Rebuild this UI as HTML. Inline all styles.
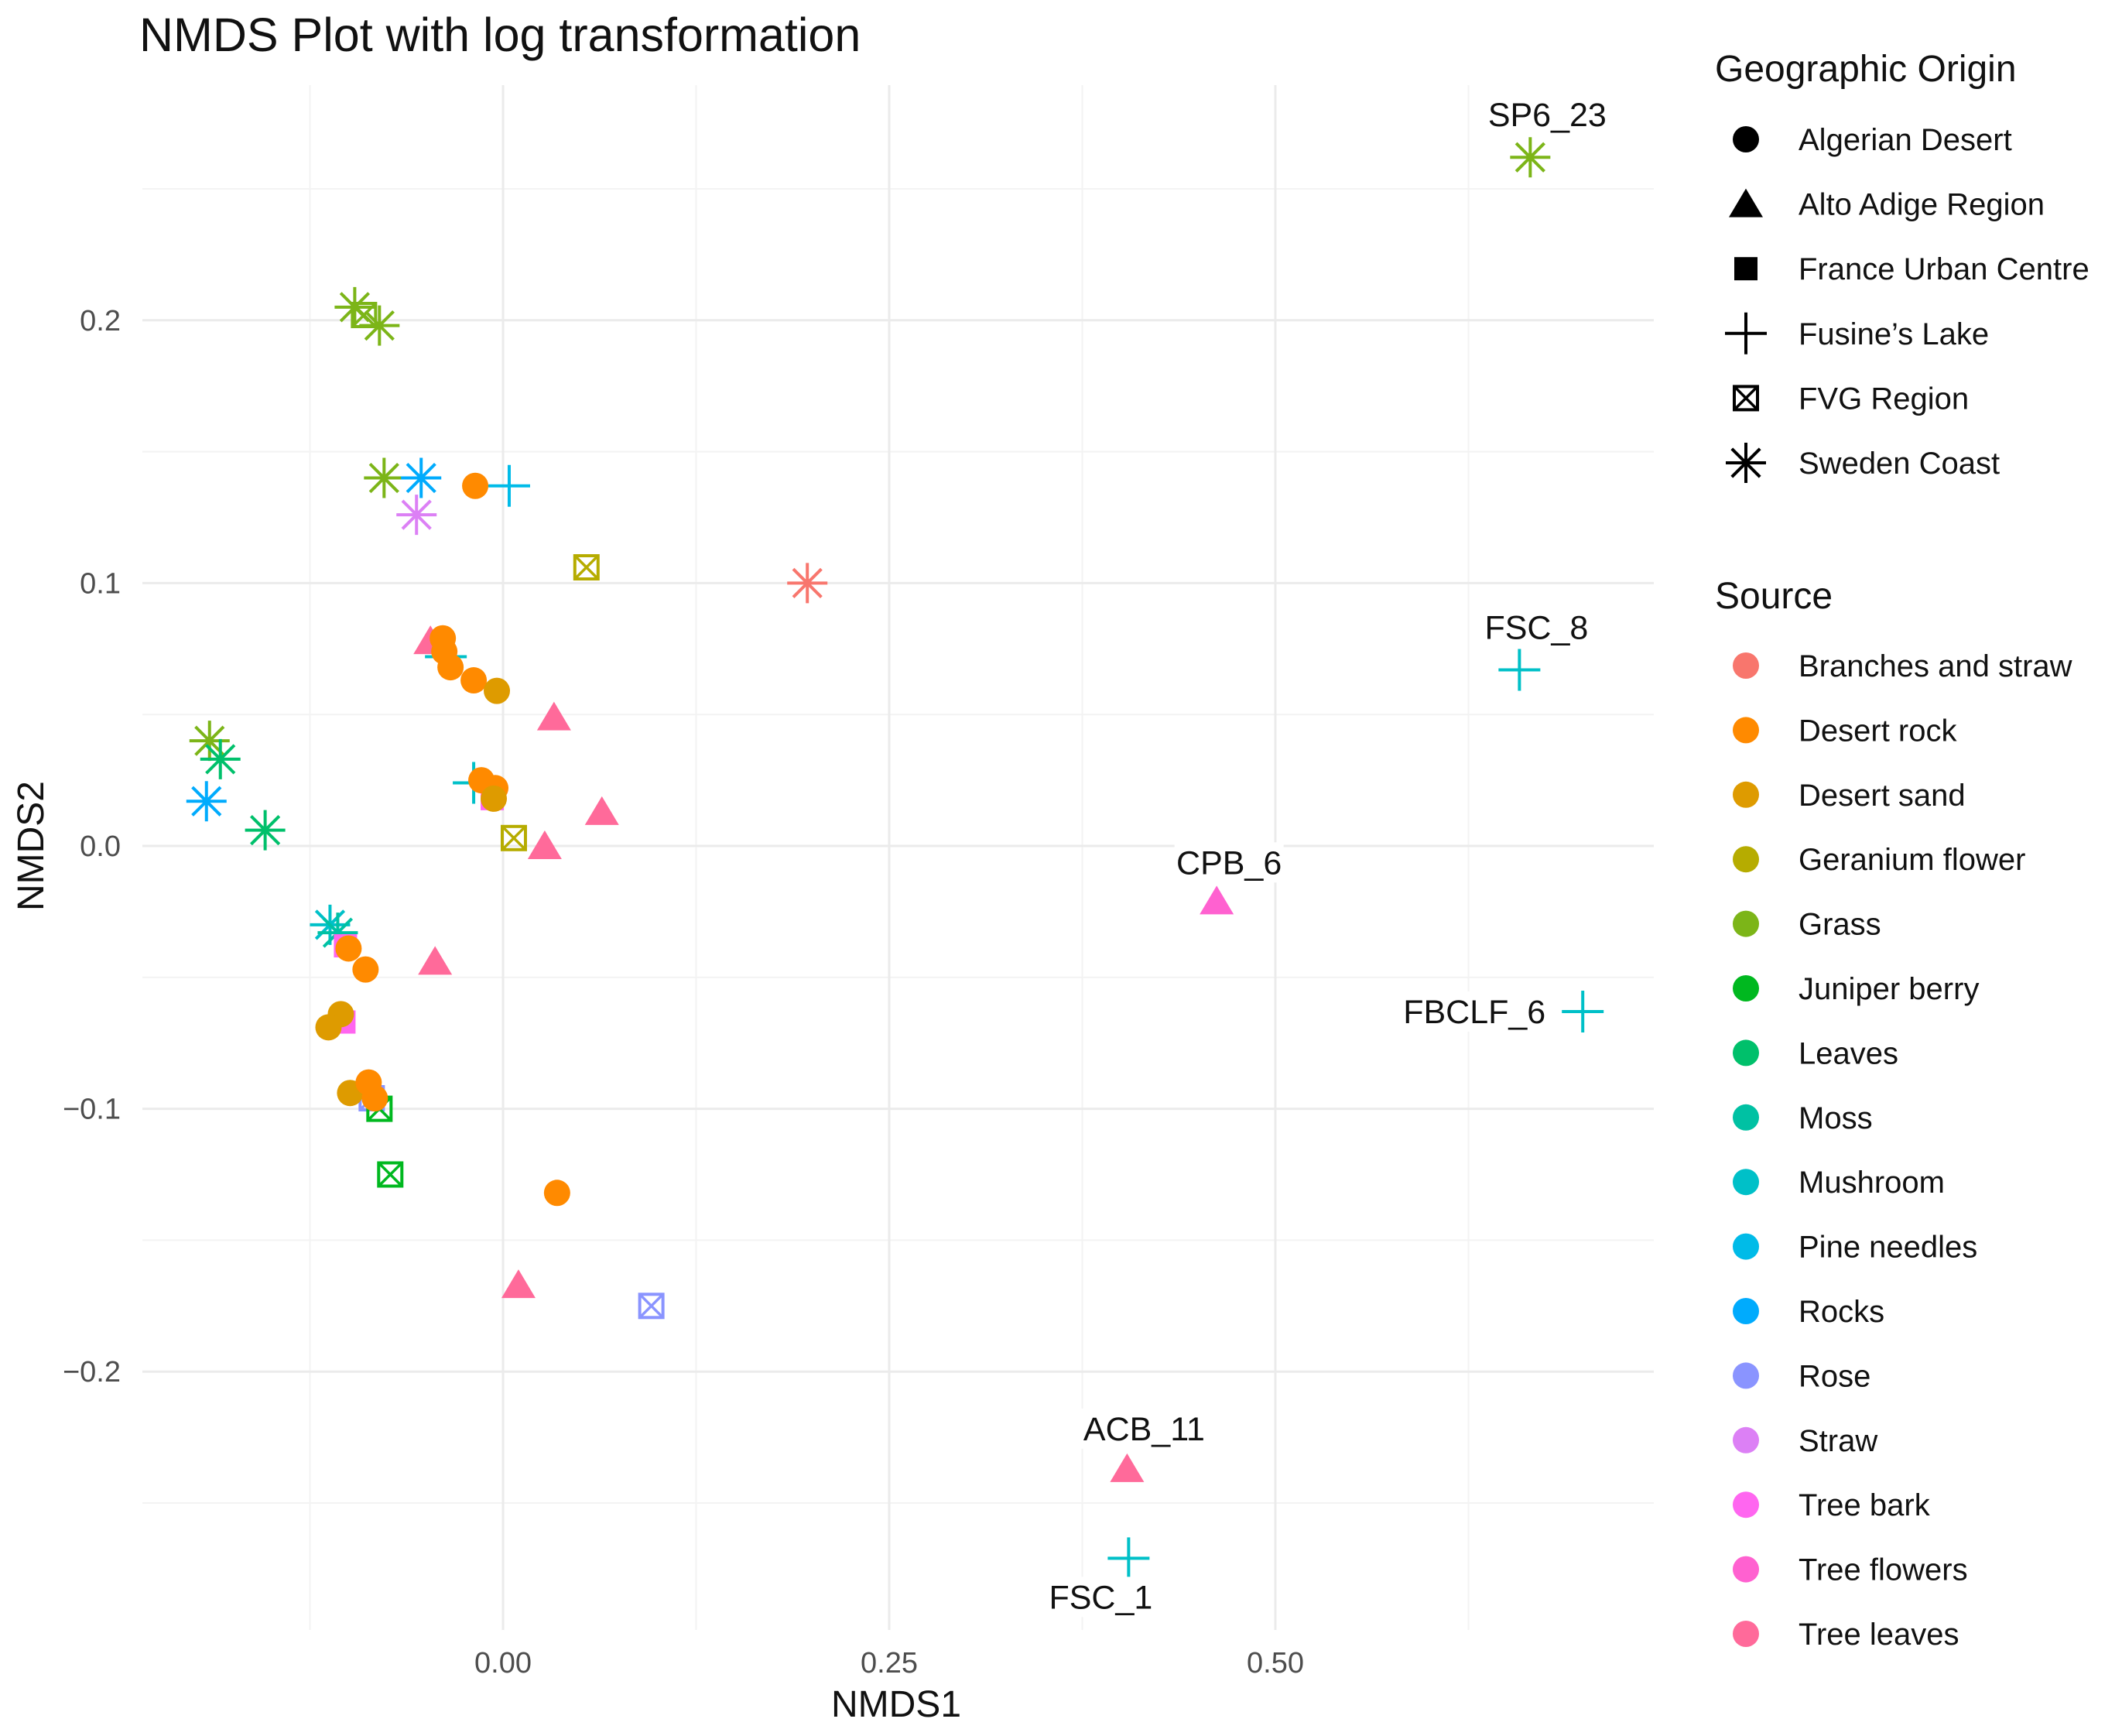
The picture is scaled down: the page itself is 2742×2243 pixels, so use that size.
<!DOCTYPE html>
<html><head><meta charset="utf-8"><style>
html,body{margin:0;padding:0;background:#fff;}
svg{display:block;font-family:"Liberation Sans",sans-serif;}
</style></head><body>
<svg id="chart" width="2742" height="2243" viewBox="0 0 2742 2243" xmlns="http://www.w3.org/2000/svg">
<text x="180" y="66" font-size="61" fill="#111">NMDS Plot with log transformation</text>
<g id="grid"></g>
<g id="marks"></g>
<g id="labels"></g>
<g id="axes"></g>
<text x="1158" y="2218" font-size="48" text-anchor="middle" fill="#111">NMDS1</text>
<text x="0" y="0" font-size="48" text-anchor="middle" fill="#111" transform="translate(56,1093) rotate(-90)">NMDS2</text>
<g id="legend"></g>
</svg>
<script>
const xTicks=[0,0.25,0.5];
const xTickLabels=["0.00","0.25","0.50"];
const yTicks=[-0.2,-0.1,0,0.1,0.2];
const yTickLabels=["\u22120.2","\u22120.1","0.0","0.1","0.2"];
const origins=["Algerian Desert","Alto Adige Region","France Urban Centre","Fusine\u2019s Lake","FVG Region","Sweden Coast"];
const sources=["Branches and straw","Desert rock","Desert sand","Geranium flower","Grass","Juniper berry","Leaves","Moss","Mushroom","Pine needles","Rocks","Rose","Straw","Tree bark","Tree flowers","Tree leaves"];
const colors=["#F8766D","#FF8A00","#DE9B00","#B6AC00","#7CB518","#00B81F","#00C06B","#00C1A3","#00C0C8","#00BBE8","#00ABFD","#8A94FF","#DC80F5","#FF66F0","#FF61D0","#FF6A9A"];
// points: x, y, origin index, source index
const ptX=[-0.090,-0.096,-0.080,-0.077,-0.053,-0.056,0.197,-0.190,-0.183,-0.192,-0.154,-0.112,-0.107,0.665,
 0.004,-0.037,-0.019,0.658,0.699,0.405,
 0.054,0.007,-0.085,-0.080,-0.073,0.096,
 -0.047,0.033,0.064,0.027,-0.044,0.010,0.462,0.404,
 -0.007,-0.102,-0.103,
 -0.018,-0.039,-0.038,-0.034,-0.019,-0.004,-0.014,-0.005,-0.006,-0.100,-0.089,-0.105,-0.113,-0.099,-0.087,-0.083,0.035];
const ptY=[0.202,0.205,0.198,0.140,0.140,0.126,0.100,0.040,0.033,0.017,0.006,-0.030,-0.033,0.262,
 0.137,0.072,0.024,0.067,-0.063,-0.271,
 0.106,0.003,-0.096,-0.100,-0.125,-0.175,
 0.078,0.049,0.013,0.000,-0.044,-0.167,-0.021,-0.237,
 0.018,-0.038,-0.067,
 0.137,0.079,0.074,0.068,0.063,0.059,0.025,0.022,0.018,-0.039,-0.047,-0.064,-0.069,-0.094,-0.090,-0.096,-0.132];
const ptOrigin=[4,5,5,5,5,5,5,5,5,5,5,5,5,5,
 3,3,3,3,3,3,
 4,4,4,4,4,4,
 1,1,1,1,1,1,1,1,
 2,2,2,
 0,0,0,0,0,0,0,0,0,0,0,0,0,0,0,0,0];
const ptSource=[4,4,4,4,10,12,0,4,6,10,6,8,7,4,
 9,8,8,8,8,8,
 3,3,11,5,5,11,
 15,15,15,15,15,15,14,15,
 13,13,13,
 1,1,1,1,1,2,1,1,2,1,1,2,2,2,1,1,1];
const labelText=["SP6_23","FSC_8","FBCLF_6","CPB_6","ACB_11","FSC_1"];
const labelPoint=[13,17,18,32,33,19];
const labelOffX=[22,22,-140,16,22,-36];
const labelOffY=[-55,-55,0,-50,-52,50];

const NS="http://www.w3.org/2000/svg";
const P={l:184,r:2137,t:110,b:2106};
function X(v){return 650+v*1996;}
function Y(v){return 1093-v*3396;}
function mk(tag,attrs,parent){const e=document.createElementNS(NS,tag);for(const k in attrs)e.setAttribute(k,attrs[k]);parent.appendChild(e);return e;}
const grid=document.getElementById('grid');
for(let i=-2;i<=6;i++){const v=-0.125+i*0.25;const x=X(v);if(x>P.l&&x<P.r){const l=mk('line',{x1:x,x2:x,y1:P.t,y2:P.b,stroke:'#f3f3f3','stroke-width':2},grid);

}}
for(let i=-6;i<=6;i++){const v=0.05+i*0.1;const y=Y(v);if(y>P.t&&y<P.b){const l=mk('line',{x1:P.l,x2:P.r,y1:y,y2:y,stroke:'#f3f3f3','stroke-width':2},grid);

}}
const axes=document.getElementById('axes');
xTicks.forEach((v,i)=>{const l=mk('line',{x1:X(v),x2:X(v),y1:P.t,y2:P.b,stroke:'#ebebeb','stroke-width':3},grid);


const t=mk('text',{x:X(v),y:2161,'font-size':38,'text-anchor':'middle',fill:'#4d4d4d'},axes);t.textContent=xTickLabels[i];

});
yTicks.forEach((v,i)=>{const l=mk('line',{x1:P.l,x2:P.r,y1:Y(v),y2:Y(v),stroke:'#ebebeb','stroke-width':3},grid);


const t=mk('text',{x:156,y:Y(v)+13,'font-size':38,'text-anchor':'end',fill:'#4d4d4d'},axes);t.textContent=yTickLabels[i];

});

function shape(o,cx,cy,col,s,parent){
 const g=mk('g',{},parent);
 if(o===0){mk('circle',{cx:cx,cy:cy,r:17*s,fill:col},g);}
 else if(o===1){const h=20*s;mk('polygon',{points:`${cx},${cy-h} ${cx+h*1.1},${cy+h*0.85} ${cx-h*1.1},${cy+h*0.85}`,fill:col},g);}
 else if(o===2){const h=15*s;mk('rect',{x:cx-h,y:cy-h,width:2*h,height:2*h,fill:col},g);}
 else if(o===3){const h=27*s;mk('path',{d:`M${cx-h},${cy}H${cx+h}M${cx},${cy-h}V${cy+h}`,stroke:col,'stroke-width':4*s,fill:'none'},g);}
 else if(o===4){const h=15*s;mk('rect',{x:cx-h,y:cy-h,width:2*h,height:2*h,fill:'none',stroke:col,'stroke-width':4*s},g);
  mk('path',{d:`M${cx-h},${cy-h}L${cx+h},${cy+h}M${cx+h},${cy-h}L${cx-h},${cy+h}`,stroke:col,'stroke-width':3.5*s},g);}
 else {const h=26*s,d=h*0.7;mk('path',{d:`M${cx-h},${cy}H${cx+h}M${cx},${cy-h}V${cy+h}M${cx-d},${cy-d}L${cx+d},${cy+d}M${cx+d},${cy-d}L${cx-d},${cy+d}`,stroke:col,'stroke-width':4*s,fill:'none'},g);
  mk('circle',{cx:cx,cy:cy,r:5*s,fill:col},g);}
 return g;
}
const marks=document.getElementById('marks');
ptX.forEach((v,i)=>{const g=shape(ptOrigin[i],X(v),Y(ptY[i]),colors[ptSource[i]],1,marks);

});
const labels=document.getElementById('labels');
labelText.forEach((s,i)=>{const p=labelPoint[i];const cx=X(ptX[p])+labelOffX[i],cy=Y(ptY[p])+labelOffY[i];
const r=mk('rect',{x:cx-s.length*12.5-8,y:cy-26,width:s.length*25+16,height:52,fill:'#fff'},labels);


const t=mk('text',{x:cx,y:cy+15,'font-size':43,'text-anchor':'middle',fill:'#111'},labels);t.textContent=s;

});

const legend=document.getElementById('legend');
let t=mk('text',{x:2216,y:105,'font-size':48,fill:'#111'},legend);t.textContent='Geographic Origin';


origins.forEach((s,i)=>{const y=180+i*83.6;const g=shape(i,2256,y,'#000',1,legend);


const tx=mk('text',{x:2324,y:y+14,'font-size':40,fill:'#111'},legend);tx.textContent=s;

});
t=mk('text',{x:2216,y:786,'font-size':48,fill:'#111'},legend);t.textContent='Source';


sources.forEach((s,i)=>{const y=860+i*83.4;const c=mk('circle',{cx:2256,cy:y,r:17,fill:colors[i]},legend);


const tx=mk('text',{x:2324,y:y+14,'font-size':40,fill:'#111'},legend);tx.textContent=s;

});
</script>
</body></html>
